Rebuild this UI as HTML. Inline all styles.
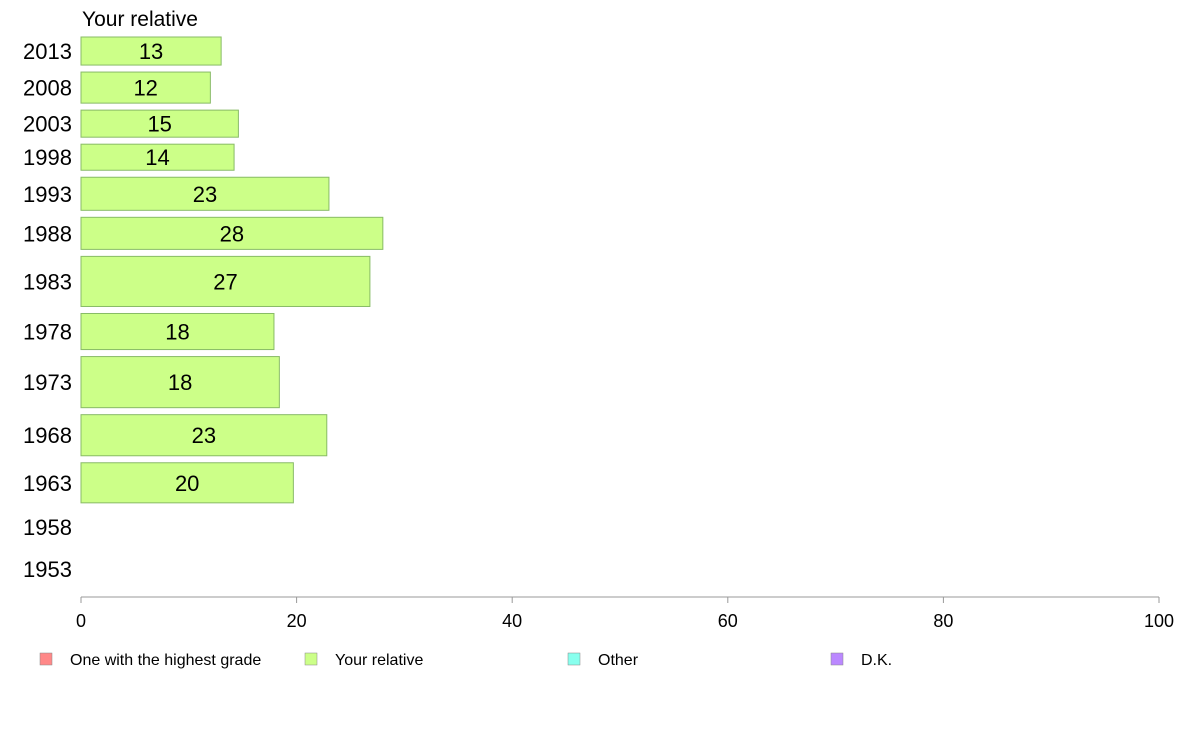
<!DOCTYPE html>
<html><head><meta charset="utf-8"><style>
body{margin:0;background:#fff;width:1188px;height:736px;overflow:hidden;font-family:"Liberation Sans",sans-serif}
</style></head><body>
<svg id="chart" width="1188" height="736" xmlns="http://www.w3.org/2000/svg" font-family="Liberation Sans, sans-serif">
<text x="82" y="26" font-size="21">Your relative</text>
<g id="bars"></g>
<g id="axis"></g>
<g id="legend"></g>
</svg>
<script>
const years = ["2013","2008","2003","1998","1993","1988","1983","1978","1973","1968","1963","1958","1953"];
const values = [13.0,12.0,14.6,14.2,23.0,28.0,26.8,17.9,18.4,22.8,19.7,null,null];
const labels = ["13","12","15","14","23","28","27","18","18","23","20","",""];
const weights = [28,31,27,26,33,32,50,36,51,41,40,34,36];
const ticks = [0,20,40,60,80,100];
const legendItems = ["One with the highest grade","Your relative","Other","D.K."];
const legendColors = ["#ff8888","#ccff88","#88ffee","#bb88ff"];

const NS="http://www.w3.org/2000/svg";
const x0=81,x1=1159,yTop=37,yBottom=587,gap=7;
const xs=v=>x0+(x1-x0)*v/100;
const totalW=weights.reduce((a,b)=>a+b,0);
const avail=(yBottom-yTop)-gap*(years.length-1);
function mk(tag,attrs,parent){const e=document.createElementNS(NS,tag);for(const k in attrs)e.setAttribute(k,attrs[k]);parent.appendChild(e);return e;}
const bars=document.getElementById('bars');
let yy=yTop;
years.forEach((yr,i)=>{
  const h=avail*weights[i]/totalW;
  const cy=yy+h/2;
  const t=mk('text',{x:72,y:cy+8,'font-size':22,'text-anchor':'end'},bars);
  t.textContent=yr;
  
  
  if(values[i]!=null){
    const r=mk('rect',{x:x0,y:yy,width:xs(values[i])-x0,height:h,fill:'#ccff88',stroke:'#88bb66','stroke-width':1},bars);
    
    
    const vt=mk('text',{x:(x0+xs(values[i]))/2,y:cy+8,'font-size':22,'text-anchor':'middle'},bars);
    vt.textContent=labels[i];
    
    
  }
  yy+=h+gap;
});
const ax=document.getElementById('axis');
const al=mk('line',{x1:x0,x2:x1,y1:597,y2:597,stroke:'#999'},ax);


ticks.forEach(v=>{
  mk('line',{x1:xs(v),x2:xs(v),y1:597,y2:603,stroke:'#999'},ax);
  const t=mk('text',{x:xs(v),y:627,'font-size':18,'text-anchor':'middle'},ax);
  t.textContent=v;
  
  
});
const lg=document.getElementById('legend');
const lx=[40,305,568,831];
legendItems.forEach((n,i)=>{
  const r=mk('rect',{x:lx[i],y:653,width:12,height:12,fill:legendColors[i],stroke:'#888','stroke-width':0.5},lg);
  
  
  const t=mk('text',{x:lx[i]+30,y:665,'font-size':16},lg);
  t.textContent=n;
  
  
});
</script>
</body></html>
